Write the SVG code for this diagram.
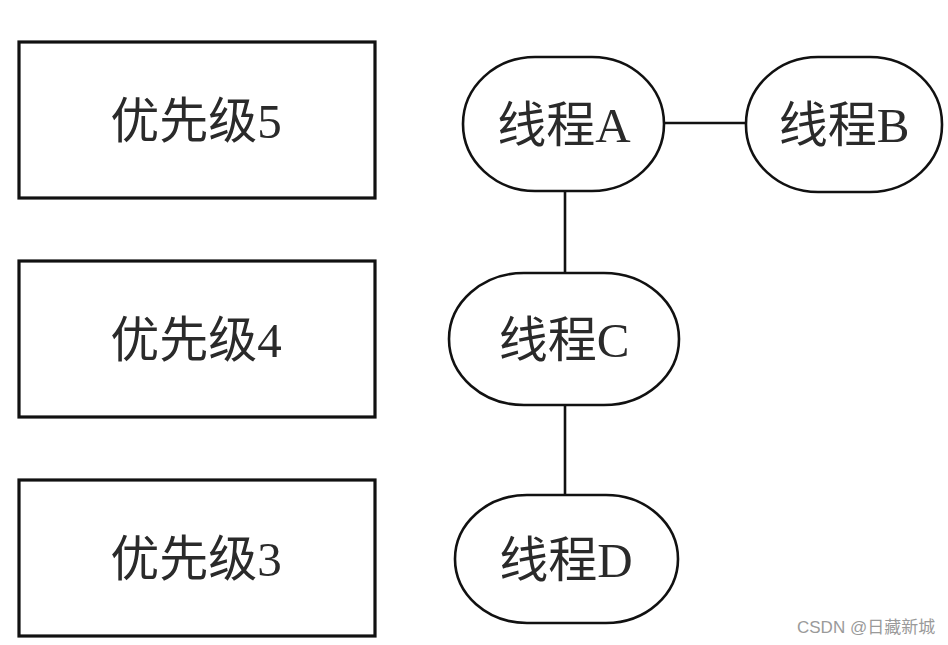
<svg xmlns="http://www.w3.org/2000/svg" width="948" height="645" viewBox="0 0 948 645">
<style>
.box{fill:#fff;stroke:#111;stroke-width:3.2}
.th{fill:#fff;stroke:#111;stroke-width:2.6}
.lbl{font-family:"Liberation Serif","Noto Sans CJK SC",serif;font-size:49px;fill:#2a2a2a;text-anchor:middle;dominant-baseline:central}
.edge{stroke:#111;stroke-width:2.6;fill:none}
.wm{font-family:"Liberation Sans","Noto Sans CJK SC",sans-serif;font-size:17px;fill:#9a9a9a}
</style>
<rect width="948" height="645" fill="#fff"/>
<g id="connectors">
<line class="edge" x1="664" y1="123" x2="746" y2="123"/>
<line class="edge" x1="565" y1="191" x2="565" y2="273"/>
<line class="edge" x1="565" y1="405" x2="565" y2="495"/>
</g>
<g id="p5"><rect class="box" x="19" y="42" width="356" height="156"/><text class="lbl" x="196" y="121">优先级5</text></g>
<g id="p4"><rect class="box" x="19" y="261" width="356" height="156"/><text class="lbl" x="196" y="340">优先级4</text></g>
<g id="p3"><rect class="box" x="19" y="480" width="356" height="156"/><text class="lbl" x="196" y="559">优先级3</text></g>
<g id="tA"><rect class="th" x="463" y="57" width="201" height="134" rx="72" ry="67"/><text class="lbl" x="564" y="125">线程A</text></g>
<g id="tB"><rect class="th" x="746" y="57" width="196" height="135" rx="72" ry="67"/><text class="lbl" x="844" y="125">线程B</text></g>
<g id="tC"><rect class="th" x="449" y="273" width="230" height="132" rx="75" ry="66"/><text class="lbl" x="564" y="340">线程C</text></g>
<g id="tD"><rect class="th" x="455" y="495" width="223" height="128" rx="72" ry="64"/><text class="lbl" x="566" y="560">线程D</text></g>
<text class="wm" x="797" y="633">CSDN @日藏新城</text>
</svg>
